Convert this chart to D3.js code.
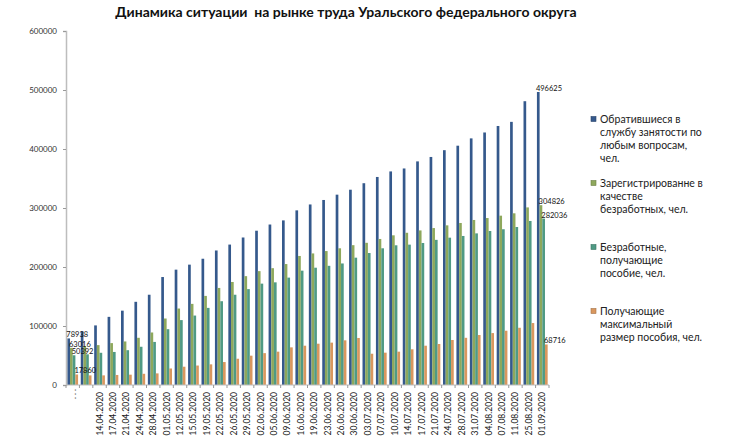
<!DOCTYPE html>
<html><head><meta charset="utf-8">
<script src="https://cdn.jsdelivr.net/npm/d3@7"></script>
<style>body{margin:0;background:#fff}svg{display:block}text{font-family:Lato,"Open Sans",sans-serif}</style>
</head><body>
<svg id="c" width="735" height="441"></svg>
<script>
const categories = ["...", "", "14.04.2020", "17.04.2020", "21.04.2020", "24.04.2020", "28.04.2020", "01.05.2020", "12.05.2020", "15.05.2020", "19.05.2020", "22.05.2020", "26.05.2020", "29.05.2020", "02.06.2020", "05.06.2020", "09.06.2020", "16.06.2020", "19.06.2020", "23.06.2020", "26.06.2020", "30.06.2020", "03.07.2020", "07.07.2020", "10.07.2020", "14.07.2020", "17.07.2020", "21.07.2020", "24.07.2020", "28.07.2020", "31.07.2020", "04.08.2020", "07.08.2020", "11.08.2020", "25.08.2020", "01.09.2020"];
const applied = [78938, 91000, 101000, 115500, 126000, 141000, 153000, 183000, 195500, 204000, 214000, 228000, 238000, 250000, 261500, 272000, 279000, 296000, 306000, 313600, 322600, 331000, 342000, 352600, 362000, 367000, 379000, 386500, 398000, 405600, 418000, 428000, 439000, 446000, 481000, 496625];
const registered = [63016, 66000, 67600, 71000, 73800, 80000, 89000, 112700, 129600, 137500, 151000, 164500, 174600, 184500, 193000, 198000, 205000, 218700, 223000, 227000, 231700, 237000, 241000, 247500, 253700, 258000, 262000, 266000, 270600, 274600, 279700, 283000, 287000, 291000, 301000, 304826];
const benefit = [50392, 52000, 54600, 56000, 59000, 64800, 73000, 94600, 110000, 117700, 130700, 142000, 153000, 162500, 171800, 174000, 182000, 193800, 198800, 202000, 206000, 215800, 223700, 231700, 236800, 237900, 240700, 246000, 249700, 252600, 257000, 261000, 264000, 267800, 278000, 282036];
const maxBenefit = [17860, 16300, 16300, 17000, 17500, 19000, 19700, 28000, 31000, 33000, 35000, 38900, 44500, 49700, 54000, 56500, 63800, 66600, 70000, 71800, 75700, 79700, 53000, 54800, 56500, 60500, 66600, 69500, 76300, 80000, 84700, 88000, 92000, 97000, 105000, 68716];
const seriesNames = [["Обратившиеся в", "службу занятости по", "любым вопросам,", "чел."], ["Зарегистрированне в", "качестве", "безработных, чел."], ["Безработные,", "получающие", "пособие, чел."], ["Получающие", "максимальный", "размер пособия, чел."]];
const yTicks = [0, 100000, 200000, 300000, 400000, 500000, 600000];
const title = "Динамика ситуации  на рынке труда Уральского федерального округа";
const labeled = [0, 35];

const colors = ["#35598c", "#8ea85c", "#4f9a84", "#d9975e"];
const series = [applied, registered, benefit, maxBenefit];
const svg = d3.select("#c");

const x = d3.scaleBand().domain(d3.range(categories.length)).range([66, 549]).paddingInner(0.2).paddingOuter(0.1);
const xs = d3.scaleBand().domain(d3.range(4)).range([0, x.bandwidth()]);
const y = d3.scaleLinear().domain([0, 600000]).range([385, 31]);

svg.append("text").attr("x", 346).attr("y", 17).attr("text-anchor", "middle")
  .attr("font-size", 14).attr("font-weight", "bold").attr("fill", "#111").style("white-space", "pre").text(title);

// bars
series.forEach((s, si) => {
  svg.append("g").selectAll("rect").data(s).join("rect")
    .attr("x", (d, i) => x(i) + xs(si)).attr("width", xs.bandwidth())
    .attr("y", d => y(d)).attr("height", d => y(0) - y(d)).attr("fill", colors[si]);
});

// axes
const yAx = svg.append("g").attr("transform", "translate(66,0)")
  .call(d3.axisLeft(y).tickValues(yTicks).tickFormat(d3.format("d")).tickSize(3).tickPadding(6));
yAx.select(".domain").attr("stroke", "#bdbdbd").attr("stroke-width", 1.5);
yAx.selectAll(".tick line").attr("stroke", "#999");
yAx.selectAll("text").attr("font-size", 8).attr("fill", "#333").attr("font-family", "Lato");

const bounds = d3.range(categories.length + 1).map(i => i < categories.length ? x(i) - x.step() * x.paddingInner() / 2 : x(i - 1) + x.bandwidth() + x.step() * x.paddingInner() / 2);
const xAx = svg.append("g");
xAx.append("line").attr("x1", 66).attr("x2", 549).attr("y1", 385).attr("y2", 385).attr("stroke", "#bdbdbd").attr("stroke-width", 1.2);
xAx.selectAll("line.t").data(bounds).join("line").attr("class", "t")
  .attr("x1", d => d).attr("x2", d => d).attr("y1", 385).attr("y2", 388).attr("stroke", "#999");
xAx.selectAll("text").data(categories).join("text")
  .attr("transform", (d, i) => `translate(${x(i) + x.bandwidth() / 2},${i === 0 ? 387 : 392}) rotate(-90)`)
  .attr("text-anchor", "end").attr("dy", "0.35em").attr("font-size", 8.5).attr("fill", "#222")
  .attr("letter-spacing", (d, i) => i === 0 ? 2 : 0)
  .text(d => d);

// data labels
series.forEach((s, si) => {
  labeled.forEach(i => {
    svg.append("text").attr("x", x(i) + xs(si) - 1).attr("y", y(s[i]) - 1)
      .attr("font-size", 7.5).attr("fill", "#111").text(s[i]);
  });
});

// legend
const legendTop = [119, 183, 247, 311];
seriesNames.forEach((lines, si) => {
  const g = svg.append("g");
  g.append("rect").attr("x", 591).attr("y", legendTop[si] - 2.5).attr("width", 5).attr("height", 5)
    .attr("fill", colors[si]).attr("stroke", d3.color(colors[si]).darker(0.8)).attr("stroke-width", 0.6);
  lines.forEach((t, li) => {
    g.append("text").attr("x", 600).attr("y", legendTop[si] + li * 13 + 3.8)
      .attr("font-size", 10.5).attr("fill", "#222").text(t);
  });
});
</script>
</body></html>
